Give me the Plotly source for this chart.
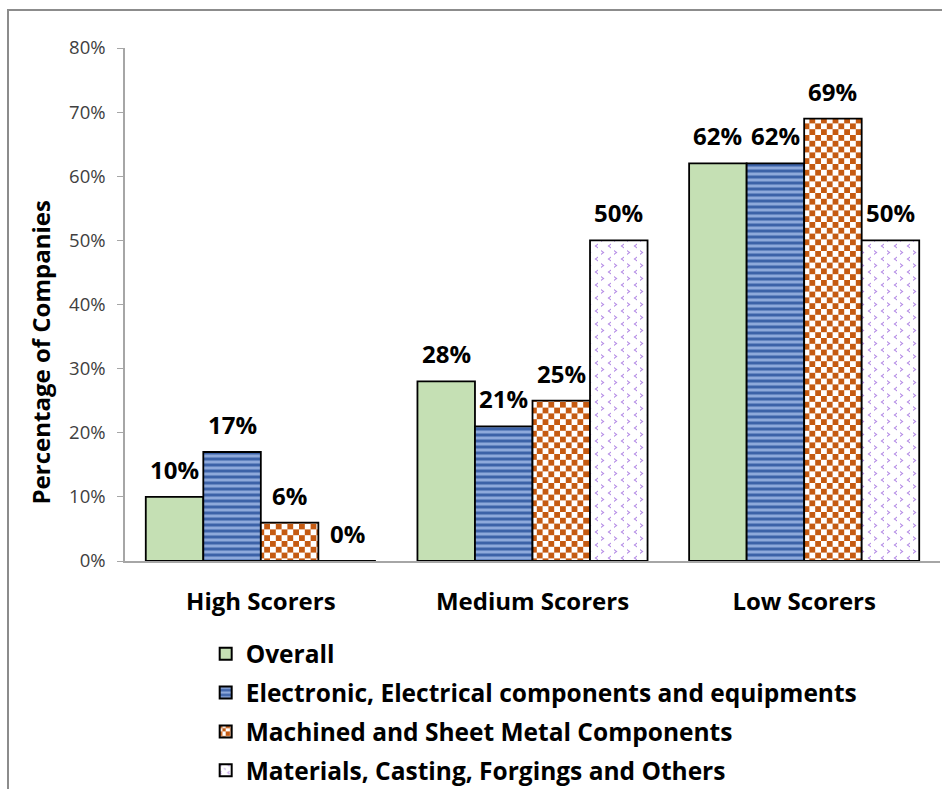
import plotly.graph_objects as go

categories = ["High Scorers", "Medium Scorers", "Low Scorers"]
series_names = [
    "Overall",
    "Electronic, Electrical components and equipments",
    "Machined and Sheet Metal Components",
    "Materials, Casting, Forgings and Others",
]
overall = [10, 28, 62]
electronic = [17, 21, 62]
machined = [6, 25, 69]
materials = [0, 50, 50]
y_ticks = [0, 10, 20, 30, 40, 50, 60, 70, 80]

series_values = [overall, electronic, machined, materials]

FONT = "Open Sans"
BAR_GAP = 0.153

patterns = [
    dict(shape=""),
    dict(shape="-", bgcolor="#8EA9DB", fgcolor="#3C62A8", size=6, solidity=0.5, fillmode="replace"),
    dict(path="M0,0H5.8V5.8H0Z M5.8,5.8H11.6V11.6H5.8Z", bgcolor="white", fgcolor="#C55A11",
         size=11.6, fillmode="replace"),
    dict(path="M5,0.5L1.5,3L5,5.5L5,4.2L3.3,3L5,1.8Z M8,7L11.5,9.5L8,12L8,10.7L9.7,9.5L8,8.3Z",
         bgcolor="white", fgcolor="#B58CE6", size=13, fillmode="replace"),
]
fills = ["#C5E0B4", "#8EA9DB", "white", "white"]

fig = go.Figure()
for name, vals, pat, col in zip(series_names, series_values, patterns, fills):
    fig.add_trace(go.Bar(
        x=categories, y=vals, name=name,
        marker=dict(color=col, pattern=pat, line=dict(color="black", width=1.8)),
        legendgroup=name,
    ))

# value labels above each bar
n = len(series_values)
w = (1 - BAR_GAP) / n
annotations = []
for j, vals in enumerate(series_values):
    for i, v in enumerate(vals):
        xpos = i - (1 - BAR_GAP) / 2 + (j + 0.5) * w
        annotations.append(dict(
            x=xpos, y=v, xref="x", yref="y", text=f"{v}%", showarrow=False,
            xanchor="center", yanchor="bottom", yshift=9,
            font=dict(family=FONT, size=24, color="black", weight="bold"),
        ))

annotations.append(dict(
    x=-0.104, y=0.407, xref="paper", yref="paper", text="Percentage of Companies",
    textangle=-90, showarrow=False, xanchor="center", yanchor="middle",
    font=dict(family=FONT, size=24, color="black", weight="bold"),
))

fig.update_layout(
    width=942, height=789,
    margin=dict(l=125, r=2, t=48, b=228, autoexpand=False),
    paper_bgcolor="white", plot_bgcolor="white",
    barmode="group", bargap=BAR_GAP, bargroupgap=0,
    showlegend=True,
    legend=dict(
        x=0.099, y=-0.137, xanchor="left", yanchor="top",
        font=dict(family=FONT, size=24.5, color="black", weight="bold"),
        tracegroupgap=4, itemsizing="constant",
    ),
    annotations=annotations,
    shapes=[dict(type="rect", xref="paper", yref="paper",
                 x0=(8 - 125) / 815, x1=1.2, y0=-1, y1=(561 - 10) / 513,
                 line=dict(color="#8C8C8C", width=2), layer="below")],
)
fig.update_xaxes(
    showline=True, linecolor="#A6A6A6", linewidth=1.5, ticks="",
    showgrid=False, ticklabelstandoff=18,
    tickfont=dict(family=FONT, size=24, color="black", weight="bold"),
)
fig.update_yaxes(
    range=[0, 80], tickvals=y_ticks, ticktext=[f"{t}%" for t in y_ticks],
    showline=True, linecolor="#A6A6A6", linewidth=1.5,
    ticks="outside", ticklen=6, tickcolor="#A6A6A6",
    showgrid=False, zeroline=False, ticklabelstandoff=8,
    tickfont=dict(family=FONT, size=18.5, color="#404040"),
)

fig.write_html("out.html")
